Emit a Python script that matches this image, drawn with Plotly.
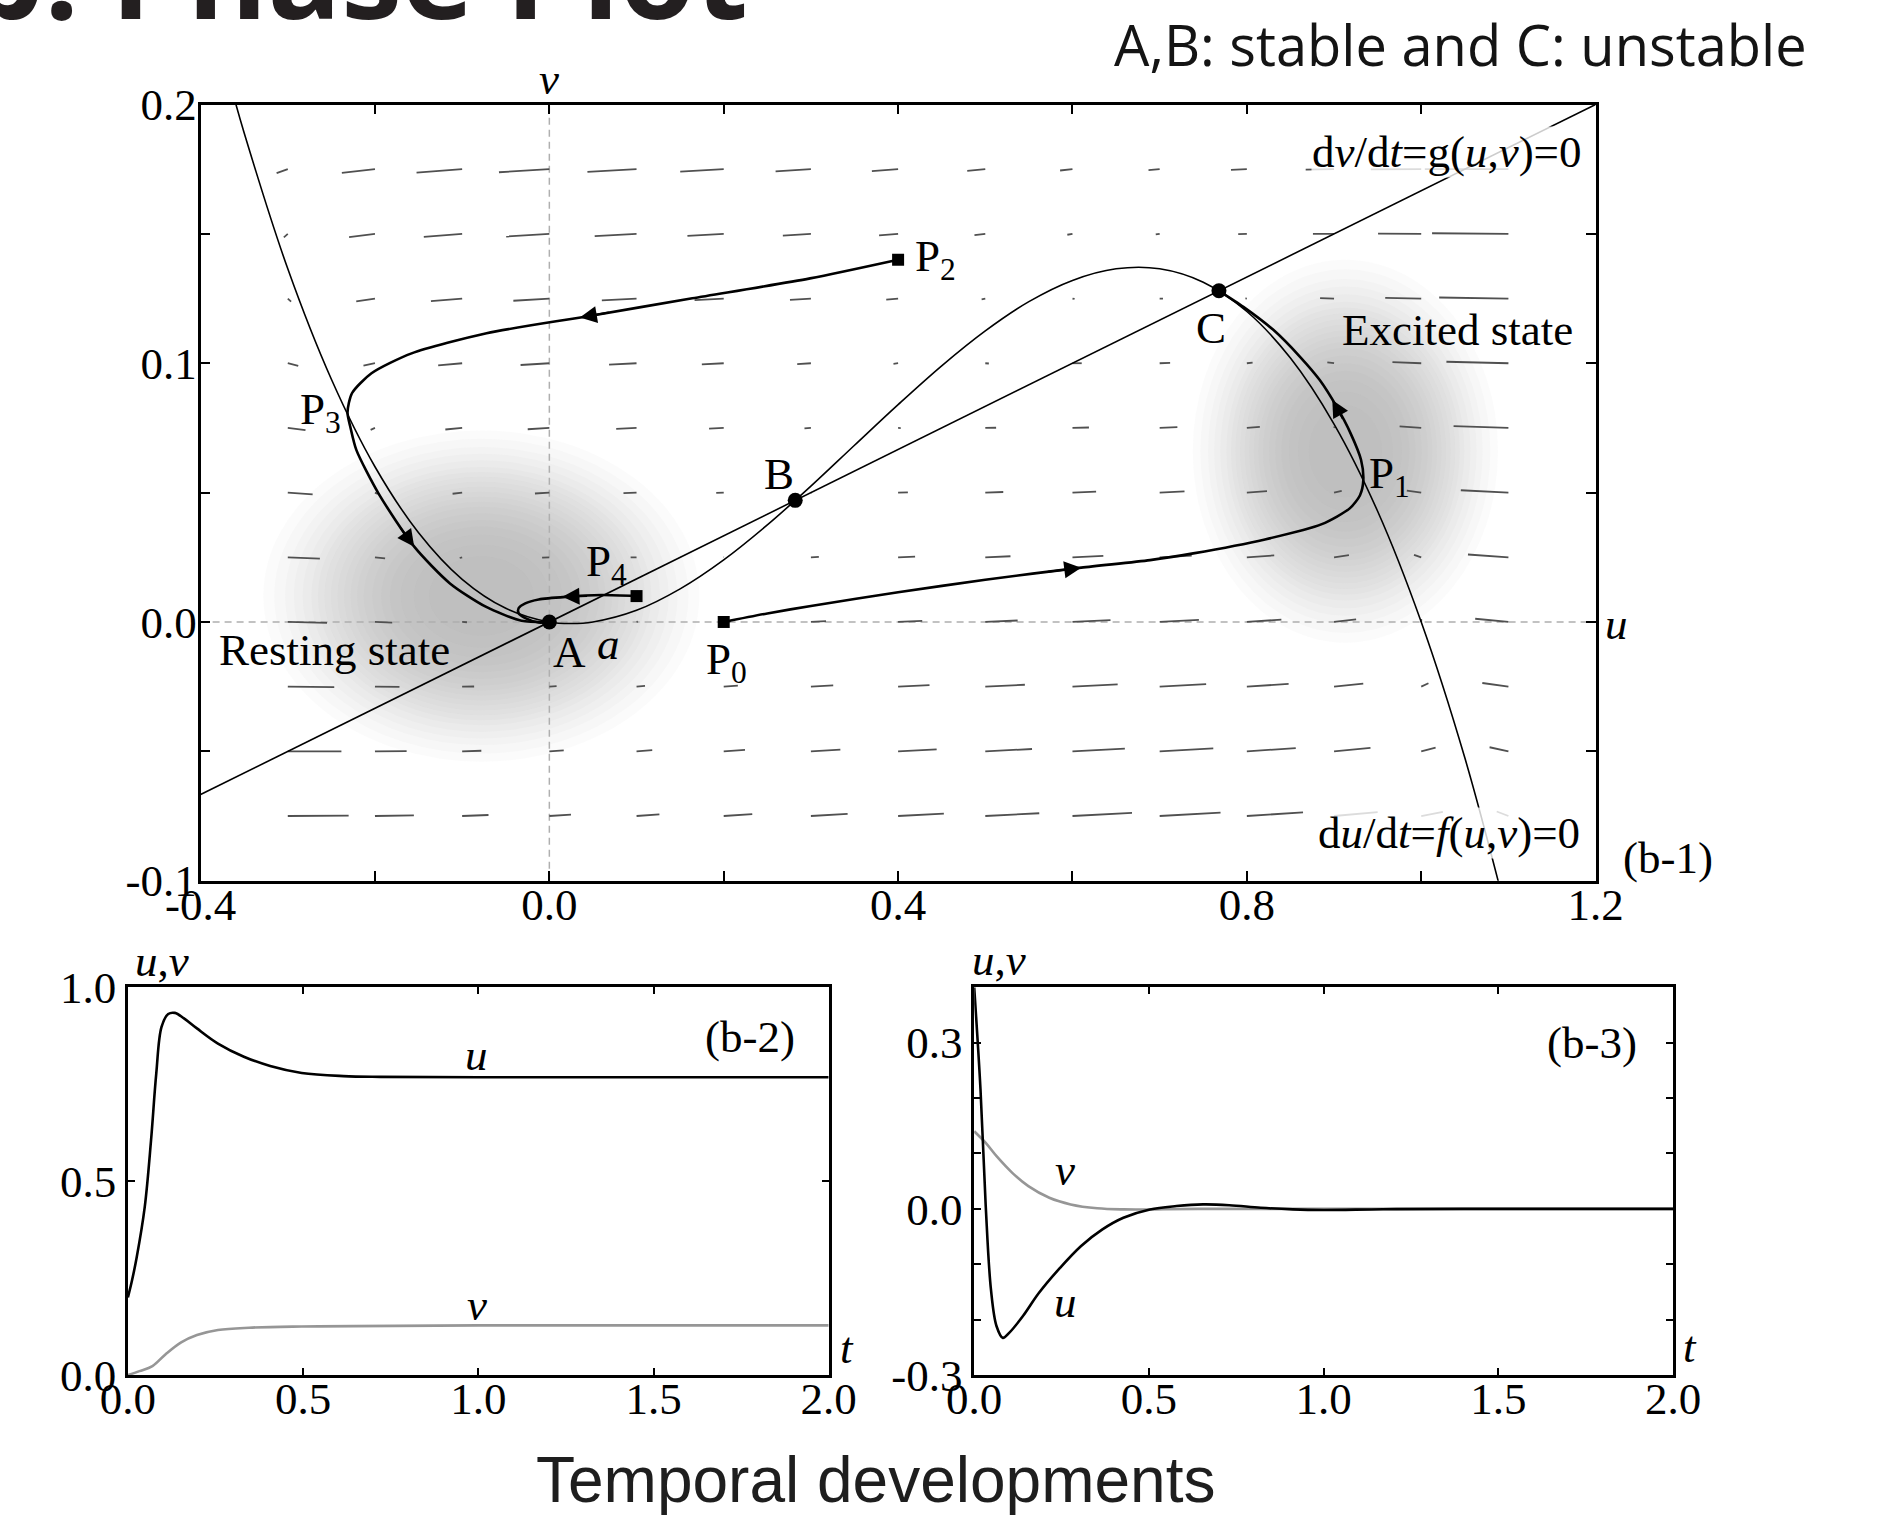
import plotly.graph_objects as go

# ================= DATA =================
# (b-1) phase plane: cubic nullcline du/dt = f(u,v) = 0
NULL_U = [-0.365, -0.35, -0.3, -0.25, -0.2, -0.15, -0.1, -0.05, 0.0, 0.025, 0.05, 0.1, 0.15, 0.2,
          0.25, 0.3, 0.35, 0.4, 0.45, 0.5, 0.55, 0.6, 0.65, 0.7, 0.75, 0.8, 0.85, 0.9, 0.95, 1.0, 1.05, 1.1]
NULL_V = [0.2068, 0.189, 0.1365, 0.0938, 0.06, 0.0345, 0.0165, 0.0053, 0.0, -0.0006, 0.0, 0.0045, 0.0128, 0.024,
          0.0375, 0.0525, 0.0683, 0.084, 0.099, 0.1125, 0.1238, 0.132, 0.1365, 0.1365, 0.1313, 0.12, 0.102, 0.0765,
          0.0428, 0.0, -0.0525, -0.1155]
# straight nullcline dv/dt = g(u,v) = 0
LINE_U = [-0.4, 1.2]
LINE_V = [-0.0667, 0.2]

# fixed points A, B, C and start points P0, P2, P4
FIX_U = [0.0, 0.282, 0.768]
FIX_V = [0.0, 0.047, 0.128]
START_U = [0.2, 0.4, 0.1]
START_V = [0.0, 0.14, 0.01]

# trajectory P0 -> P1 -> C
TR0_U = [0.2, 0.25, 0.3, 0.4, 0.5, 0.61, 0.689, 0.7385, 0.8208, 0.886, 0.918, 0.9298, 0.9336, 0.931,
         0.919, 0.903, 0.8836, 0.861, 0.830, 0.796, 0.768]
TR0_V = [0.0, 0.0033, 0.0062, 0.0115, 0.0163, 0.021, 0.0239, 0.0265, 0.0319, 0.0378, 0.0439, 0.049, 0.0548, 0.0626,
         0.0729, 0.0832, 0.0935, 0.1025, 0.113, 0.1218, 0.128]
# trajectory P2 -> P3 -> A
TR2_U = [0.4, 0.299, 0.164, 0.041, -0.072, -0.158, -0.204, -0.2264, -0.2315, -0.228, -0.2214, -0.196,
         -0.155, -0.114, -0.073, -0.032, 0.0]
TR2_V = [0.14, 0.1328, 0.1251, 0.118, 0.1116, 0.1038, 0.0961, 0.0884, 0.081, 0.075, 0.0665, 0.0497,
         0.0291, 0.0149, 0.0059, 0.0005, 0.0]
# trajectory P4 -> A (small loop)
TR4_U = [0.1, 0.0594, 0.0184, -0.0122, -0.0276, -0.0353, -0.0353, -0.0276, -0.0122, 0.0]
TR4_V = [0.01, 0.0104, 0.0097, 0.0087, 0.0072, 0.0053, 0.0034, 0.0015, -0.0002, 0.0]

# arrow heads on trajectories: head point and a point just behind it
ARROW_HEAD_U = [0.61, 0.898, 0.035, -0.155, 0.015]
ARROW_HEAD_V = [0.021, 0.0858, 0.1177, 0.0291, 0.0097]
ARROW_TAIL_U = [0.57, 0.911, 0.07, -0.172, 0.045]
ARROW_TAIL_V = [0.0193, 0.0780, 0.1197, 0.037, 0.0101]

# direction field: grid columns / rows and dash offsets (du in 1e-3, dv in 1e-4)
FIELD_U = [-0.3, -0.2, -0.1, 0.0, 0.1, 0.2, 0.3, 0.4, 0.5, 0.6, 0.7, 0.8, 0.9, 1.0, 1.1]
FIELD_V = [0.175, 0.15, 0.125, 0.1, 0.075, 0.05, 0.025, 0.0, -0.025, -0.05, -0.075]
FIELD_DU = [
    [-12.8, -38.0, -52.3, -57.8, -56.3, -49.9, -40.5, -30.1, -20.7, -14.2, -12.8, -18.2, -32.5, -57.8, -95.9],
    [-4.5, -29.7, -44.0, -49.5, -48.0, -41.6, -32.2, -21.8, -12.4, -5.9, -4.5, -9.9, -24.2, -49.5, -87.6],
    [3.8, -21.5, -35.8, -41.3, -39.8, -33.4, -24.0, -13.6, -4.2, 2.4, 3.8, -1.7, -16.0, -41.3, -79.4],
    [12.0, -13.2, -27.5, -33.0, -31.5, -25.1, -15.7, -5.3, 4.1, 10.6, 12.0, 6.6, -7.7, -33.0, -71.1],
    [20.3, -5.0, -19.3, -24.8, -23.3, -16.8, -7.4, 3.0, 12.4, 18.9, 20.3, 14.9, 0.6, -24.8, -62.9],
    [28.5, 3.3, -11.0, -16.5, -15.0, -8.6, 0.8, 11.2, 20.6, 27.1, 28.5, 23.1, 8.8, -16.5, -54.6],
    [36.8, 11.6, -2.8, -8.3, -6.8, -0.3, 9.1, 19.5, 28.9, 35.4, 36.8, 31.4, 17.1, -8.3, -46.4],
    [45.0, 19.8, 5.5, 0.0, 1.5, 7.9, 17.3, 27.7, 37.1, 43.6, 45.0, 39.6, 25.3, 0.0, -38.1],
    [53.3, 28.1, 13.7, 8.3, 9.7, 16.2, 25.6, 36.0, 45.4, 51.8, 53.3, 47.9, 33.5, 8.3, -29.9],
    [61.5, 36.3, 22.0, 16.5, 18.0, 24.4, 33.8, 44.2, 53.6, 60.1, 61.5, 56.1, 41.8, 16.5, -21.6],
    [69.8, 44.6, 30.2, 24.8, 26.2, 32.7, 42.1, 52.5, 61.9, 68.3, 69.8, 64.4, 50.0, 24.8, -13.4],
]
FIELD_DV = [
    [-15.3, -14.1, -13.0, -11.9, -10.7, -9.6, -8.5, -7.3, -6.2, -5.1, -4.0, -2.8, -1.7, -0.6, 0.6],
    [-13.6, -12.4, -11.3, -10.2, -9.0, -7.9, -6.8, -5.7, -4.5, -3.4, -2.3, -1.1, 0.0, 1.1, 2.3],
    [-11.9, -10.7, -9.6, -8.5, -7.3, -6.2, -5.1, -4.0, -2.8, -1.7, -0.6, 0.6, 1.7, 2.8, 4.0],
    [-10.2, -9.0, -7.9, -6.8, -5.7, -4.5, -3.4, -2.3, -1.1, 0.0, 1.1, 2.3, 3.4, 4.5, 5.7],
    [-8.5, -7.3, -6.2, -5.1, -4.0, -2.8, -1.7, -0.6, 0.6, 1.7, 2.8, 4.0, 5.1, 6.2, 7.3],
    [-6.8, -5.7, -4.5, -3.4, -2.3, -1.1, 0.0, 1.1, 2.3, 3.4, 4.5, 5.7, 6.8, 7.9, 9.0],
    [-5.1, -4.0, -2.8, -1.7, -0.6, 0.6, 1.7, 2.8, 4.0, 5.1, 6.2, 7.3, 8.5, 9.6, 10.7],
    [-3.4, -2.3, -1.1, 0.0, 1.1, 2.3, 3.4, 4.5, 5.7, 6.8, 7.9, 9.0, 10.2, 11.3, 12.4],
    [-1.7, -0.6, 0.6, 1.7, 2.8, 4.0, 5.1, 6.2, 7.3, 8.5, 9.6, 10.7, 11.9, 13.0, 14.1],
    [0.0, 1.1, 2.3, 3.4, 4.5, 5.7, 6.8, 7.9, 9.0, 10.2, 11.3, 12.4, 13.6, 14.7, 15.8],
    [1.7, 2.8, 4.0, 5.1, 6.2, 7.3, 8.5, 9.6, 10.7, 11.9, 13.0, 14.1, 15.3, 16.4, 17.5],
]

# shaded regions (resting / excited state): centre and semi-axes
BLOB_CU = [-0.078, 0.913]
BLOB_CV = [0.01, 0.066]
BLOB_RU = [0.25, 0.175]
BLOB_RV = [0.064, 0.074]

# axis ticks
B1_XTICKS = [-0.4, -0.2, 0.0, 0.2, 0.4, 0.6, 0.8, 1.0, 1.2]
B1_XTEXT = ["-0.4", "", "0.0", "", "0.4", "", "0.8", "", "1.2"]
B1_YTICKS = [-0.1, -0.05, 0.0, 0.05, 0.1, 0.15, 0.2]
B1_YTEXT = ["-0.1", "", "0.0", "", "0.1", "", "0.2"]
T_TICKS = [0.0, 0.5, 1.0, 1.5, 2.0]
T_TEXT = ["0.0", "0.5", "1.0", "1.5", "2.0"]
B2_YTICKS = [0.0, 0.5, 1.0]
B2_YTEXT = ["0.0", "0.5", "1.0"]
B3_YTICKS = [-0.3, -0.2, -0.1, 0.0, 0.1, 0.2, 0.3, 0.4]
B3_YTEXT = ["-0.3", "", "", "0.0", "", "", "0.3", ""]

# (b-2) temporal development from P0
B2_UT = [0.0, 0.012, 0.025, 0.048, 0.066, 0.081, 0.096, 0.115, 0.134, 0.16, 0.197, 0.257, 0.331, 0.406,
         0.496, 0.615, 0.72, 1.0, 1.5, 2.0]
B2_U = [0.2, 0.245, 0.303, 0.433, 0.605, 0.778, 0.898, 0.931, 0.934, 0.92, 0.894, 0.855, 0.821, 0.797,
        0.779, 0.771, 0.769, 0.768, 0.768, 0.768]
B2_VT = [0.0, 0.033, 0.07, 0.107, 0.152, 0.197, 0.257, 0.346, 0.496, 0.645, 1.0, 2.0]
B2_V = [0.0, 0.01, 0.023, 0.053, 0.084, 0.103, 0.116, 0.122, 0.125, 0.126, 0.128, 0.128]

# (b-3) temporal development from P2
B3_UT = [0.0, 0.018, 0.033, 0.048, 0.064, 0.082, 0.1, 0.139, 0.185, 0.245, 0.306, 0.367, 0.427, 0.503,
         0.579, 0.655, 0.73, 0.82, 0.912, 1.0, 1.17, 1.4, 2.0]
B3_U = [0.4, 0.216, 0.005, -0.146, -0.212, -0.233, -0.224, -0.194, -0.152, -0.107, -0.067, -0.037, -0.016,
        -0.001, 0.005, 0.008, 0.0066, 0.002, -0.001, -0.002, -0.0006, 0.0, 0.0]
B3_VT = [0.0, 0.033, 0.064, 0.109, 0.155, 0.215, 0.276, 0.352, 0.427, 0.518, 0.64, 1.0, 2.0]
B3_V = [0.14, 0.119, 0.095, 0.065, 0.041, 0.02, 0.008, 0.001, -0.001, -0.001, 0.0, 0.0, 0.0]

# ================= STYLE =================
W, H = 1884, 1524
SERIF = "Liberation Serif, Times New Roman, serif"
SANS = "Open Sans, Noto Sans, sans-serif"
ARIAL = "Liberation Sans, Arial, sans-serif"
FS = 45
BLOB_LAYERS = [1.0, 0.95, 0.9, 0.86, 0.82, 0.78, 0.75, 0.72, 0.69, 0.66, 0.63, 0.6, 0.57, 0.54,
               0.5, 0.46, 0.42, 0.37, 0.31, 0.24]

fig = go.Figure()

# direction field dashes
dx, dy = [], []
for i, v0 in enumerate(FIELD_V):
    for j, u0 in enumerate(FIELD_U):
        du = FIELD_DU[i][j] * 1e-3
        dv = FIELD_DV[i][j] * 1e-4
        if du == 0 and dv == 0:
            continue
        dx += [u0, u0 + du, None]
        dy += [v0, v0 + dv, None]
fig.add_trace(go.Scatter(x=dx, y=dy, mode="lines", line=dict(color="rgb(80,80,80)", width=1.8),
                         xaxis="x", yaxis="y", hoverinfo="skip"))

# nullclines
fig.add_trace(go.Scatter(x=NULL_U, y=NULL_V, mode="lines", line=dict(color="black", width=1.6, shape="spline"),
                         xaxis="x", yaxis="y"))
fig.add_trace(go.Scatter(x=LINE_U, y=LINE_V, mode="lines", line=dict(color="black", width=1.6),
                         xaxis="x", yaxis="y"))
# trajectories
for tu, tv in [(TR0_U, TR0_V), (TR2_U, TR2_V), (TR4_U, TR4_V)]:
    fig.add_trace(go.Scatter(x=tu, y=tv, mode="lines",
                             line=dict(color="black", width=2.6, shape="spline", smoothing=0.7),
                             xaxis="x", yaxis="y"))
# markers
fig.add_trace(go.Scatter(x=FIX_U, y=FIX_V, mode="markers", marker=dict(symbol="circle", size=15, color="black"),
                         xaxis="x", yaxis="y"))
fig.add_trace(go.Scatter(x=START_U, y=START_V, mode="markers", marker=dict(symbol="square", size=12, color="black"),
                         xaxis="x", yaxis="y"))

# (b-2)
fig.add_trace(go.Scatter(x=B2_UT, y=B2_U, mode="lines", line=dict(color="black", width=2.6, shape="spline"),
                         xaxis="x2", yaxis="y2"))
fig.add_trace(go.Scatter(x=B2_VT, y=B2_V, mode="lines", line=dict(color="rgb(150,150,150)", width=2.6, shape="spline"),
                         xaxis="x2", yaxis="y2"))
# (b-3)
fig.add_trace(go.Scatter(x=B3_VT, y=B3_V, mode="lines", line=dict(color="rgb(150,150,150)", width=2.6, shape="spline"),
                         xaxis="x3", yaxis="y3"))
fig.add_trace(go.Scatter(x=B3_UT, y=B3_U, mode="lines", line=dict(color="black", width=2.6, shape="spline"),
                         xaxis="x3", yaxis="y3"))

# shapes: shaded states and dashed zero lines
shapes = []
for cu, cv, ru, rv in zip(BLOB_CU, BLOB_CV, BLOB_RU, BLOB_RV):
    for s in BLOB_LAYERS:
        shapes.append(dict(type="circle", xref="x", yref="y", x0=cu - ru * s, x1=cu + ru * s,
                           y0=cv - rv * s, y1=cv + rv * s, fillcolor="rgba(140,141,143,0.034)",
                           line=dict(width=0), layer="below"))
shapes.append(dict(type="line", xref="x", yref="y", x0=0, x1=0, y0=-0.1, y1=0.2,
                   line=dict(color="rgb(175,175,175)", width=1.5, dash="7px,5px"), layer="below"))
shapes.append(dict(type="line", xref="x", yref="y", x0=-0.4, x1=1.2, y0=0, y1=0,
                   line=dict(color="rgb(175,175,175)", width=1.5, dash="7px,5px"), layer="below"))

ann = []


def txt(text, x, y, xref="x", yref="y", size=FS, family=SERIF, xanchor="center", yanchor="middle",
        color="black", bg=None):
    d = dict(text=text, x=x, y=y, xref=xref, yref=yref, showarrow=False, xanchor=xanchor, yanchor=yanchor,
             font=dict(family=family, size=size, color=color), borderpad=0)
    if bg:
        d["bgcolor"] = bg
    ann.append(d)


def ptxt(text, px, py, **kw):
    # position given in page pixels
    txt(text, px / W, 1 - py / H, xref="paper", yref="paper", **kw)


# main plot labels (inside the axis ranges)
txt("P<sub>2</sub>", 0.4185, 0.1403, xanchor="left")
txt("C", 0.759, 0.1136)
txt("B", 0.263, 0.057)
txt("P<sub>1</sub>", 0.939, 0.0565, xanchor="left")
txt("P<sub>3</sub>", -0.2374, 0.081, xanchor="right")
txt("P<sub>4</sub>", 0.066, 0.0225)
txt("A", 0.0231, -0.0118)
txt("<i>a</i>", 0.0673, -0.0085)
txt("P<sub>0</sub>", 0.2037, -0.0155)
txt("Resting state", -0.247, -0.0109)
txt("Excited state", 1.0415, 0.1127)
txt("d<i>v</i>/d<i>t</i>=g(<i>u</i>,<i>v</i>)=0", 1.1855, 0.1818, xanchor="right", bg="rgba(255,255,255,0.8)")
txt("d<i>u</i>/d<i>t</i>=<i>f</i>(<i>u</i>,<i>v</i>)=0", 1.1832, -0.0816, xanchor="right", bg="rgba(255,255,255,0.8)")
# labels outside the axes (page pixels)
ptxt("<i>v</i>", 549, 79)
ptxt("<i>u</i>", 1616, 624)
ptxt("(b-1)", 1668, 858)
ptxt("<i>u</i>,<i>v</i>", 162, 961)
ptxt("<i>t</i>", 847, 1348)
ptxt("<i>u</i>,<i>v</i>", 999, 960)
ptxt("<i>t</i>", 1690, 1347)

# arrows on trajectories
for hx, hy, tx, ty in zip(ARROW_HEAD_U, ARROW_HEAD_V, ARROW_TAIL_U, ARROW_TAIL_V):
    ann.append(dict(x=hx, y=hy, ax=tx, ay=ty, xref="x", yref="y", axref="x", ayref="y", text="",
                    showarrow=True, arrowhead=2, arrowsize=1.7, arrowwidth=2, arrowcolor="black", standoff=0))

# (b-2) labels
txt("(b-2)", 1.775, 0.872, xref="x2", yref="y2")
txt("<i>u</i>", 0.995, 0.825, xref="x2", yref="y2")
txt("<i>v</i>", 0.995, 0.18, xref="x2", yref="y2")
# (b-3) labels
txt("(b-3)", 1.769, 0.299, xref="x3", yref="y3")
txt("<i>v</i>", 0.261, 0.07, xref="x3", yref="y3")
txt("<i>u</i>", 0.261, -0.168, xref="x3", yref="y3")

# page texts
ptxt("<b>b. Phase Plot</b>", 749, 56, size=122, family=SANS, xanchor="right", yanchor="bottom",
     color="rgb(35,31,32)")
ptxt("A,B: stable and C: unstable", 1808, 44, size=56, family=SANS, xanchor="right", color="rgb(20,20,20)")
ptxt("Temporal developments", 875, 1480, size=64, family=ARIAL, color="rgb(30,30,30)")


def ax_style(**kw):
    d = dict(showline=True, linewidth=2.5, linecolor="black", mirror="ticks", ticks="inside",
             tickwidth=2, tickcolor="black", showgrid=False, zeroline=False, automargin=False,
             tickfont=dict(family=SERIF, size=FS, color="black"), fixedrange=True)
    d.update(kw)
    return d


fig.update_layout(
    width=W, height=H, margin=dict(l=0, r=0, t=0, b=0, autoexpand=False),
    paper_bgcolor="white", plot_bgcolor="white", showlegend=False,
    xaxis=ax_style(domain=[200.6 / W, 1595.6 / W], range=[-0.4, 1.2], tickmode="array",
                   tickvals=B1_XTICKS, ticktext=B1_XTEXT, ticklen=10, anchor="y", ticklabelstandoff=-17),
    yaxis=ax_style(domain=[1 - 880.7 / H, 1 - 104.5 / H], range=[-0.1, 0.2], tickmode="array",
                   tickvals=B1_YTICKS, ticktext=B1_YTEXT, ticklen=10, anchor="x", ticklabelstandoff=-8),
    xaxis2=ax_style(domain=[127.9 / W, 828.7 / W], range=[0, 2], tickmode="array",
                    tickvals=T_TICKS, ticktext=T_TEXT, ticklen=7, anchor="y2", ticklabelstandoff=-18),
    yaxis2=ax_style(domain=[1 - 1375 / H, 1 - 987.3 / H], range=[0, 1], tickmode="array",
                    tickvals=B2_YTICKS, ticktext=B2_YTEXT, ticklen=7, anchor="x2"),
    xaxis3=ax_style(domain=[974.2 / W, 1673 / W], range=[0, 2], tickmode="array",
                    tickvals=T_TICKS, ticktext=T_TEXT, ticklen=7, anchor="y3", ticklabelstandoff=-18),
    yaxis3=ax_style(domain=[1 - 1375 / H, 1 - 987.3 / H], range=[-0.3, 0.4], tickmode="array",
                    tickvals=B3_YTICKS, ticktext=B3_YTEXT, ticklen=7, anchor="x3"),
    shapes=shapes, annotations=ann,
)

fig.write_html("out.html", config={"displayModeBar": False},
               post_script="document.body.style.margin='0px';document.body.style.overflow='hidden';")
